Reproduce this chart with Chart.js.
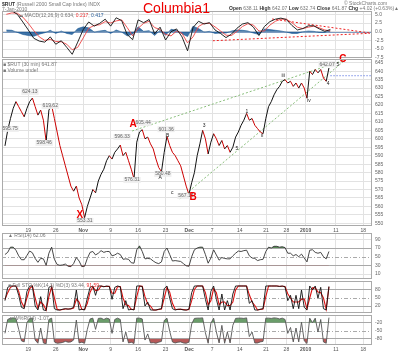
<!DOCTYPE html>
<html>
<head>
<meta charset="utf-8">
<title>$RUT 30 min</title>
<script src="https://cdn.jsdelivr.net/npm/chart.js@4.4.1/dist/chart.umd.min.js"></script>
<style>
  body{margin:0;background:#fff;}
  #wrap{position:relative;width:400px;height:354px;overflow:hidden;font-family:"Liberation Sans",Arial,sans-serif;}
  canvas{position:absolute;left:0;}
  .t{position:absolute;font-size:5px;line-height:6px;color:#777;white-space:nowrap;z-index:2}
  .t b{color:#333}
  .big{position:absolute;left:143px;top:0px;font-size:14px;line-height:16px;color:#e00;z-index:2}
</style>
</head>
<body>
<div id="wrap">
  <div class="t" style="left:2px;top:1px"><b>$RUT</b> (Russell 2000 Small Cap Index) INDX</div>
  <div class="t" style="left:2px;top:6px">7-Jan-2010</div>
  <div class="big">Columbia1</div>
  <div class="t" style="left:344px;top:0px">© StockCharts.com</div>
  <div class="t" style="left:229px;top:5px"><b>Open</b> 638.11 <b>High</b> 642.07 <b>Low</b> 632.74 <b>Close</b> 641.87 <b>Chg</b> +4.02 (+0.63%)▲</div>
  <div class="t" style="left:18px;top:12px">&#9644; MACD(12,26,9) 0.634, <span style="color:#e33">0.217</span>, <span style="color:#2a5f9a">0.417</span></div>
  <div class="t" style="left:3px;top:61px">&#9632; $RUT (30 min) 641.87</div>
  <div class="t" style="left:3px;top:67px">&#9632; Volume undef</div>
  <div class="t" style="left:8px;top:232px">&#9650; RSI(14) 62.06</div>
  <div class="t" style="left:8px;top:282px">&#9632; Full STO %K(14,3) %D(3) 93.44, <span style="color:#e33">91.59</span></div>
  <div class="t" style="left:8px;top:315px">&#9650; W%R(14) -1.07</div>
</div>
<script>
// ---- data (x unit = trading day, Oct 19 = 0) ----
const TICK_DAYS = [0, 5, 10, 15, 20, 25, 29.3, 33.5, 38.5, 43.3, 47, 50.5, 56, 61];
const TICK_TEXT = ['19', '26', 'Nov', '9', '16', '23', 'Dec', '7', '14', '21', '28', '2010', '11', '18'];
const BOLD_TICKS = ['Nov', 'Dec', '2010'];
const X_MIN = -4.79, X_MAX = 62.59;

// price + oscillators sampled every half day
const HALF_START = -4.25, HALF_STEP = 0.5;
const PRICE = [595.8,605,612,618,622,619,616,613,618,622,
  624.1,619,614,617,611,598.5,617,619.6,612,604,
  596,590,584,578,572,569,572,565,561,553.3,
  560,565,570,568,575,579,582,587,590,588,
  592,594,596.3,590,592,587,582,576.3,598,604,
  605.4,600,601,597,594,588,583,580.5,592,601.4,
  596,592,590,587,584,578,572,567.1,574,580,
  590,597,605,600,591,598,603,600,596,599,
  594,596,592,595,601,604,608,611,615,611,
  612,608,606,604,603,612,619,622,626,629,
  631,634,635,633,634,631,633,630,633,630,
  624,640,638,641,639,641,636,634,641.9];
const RSI = [55,60,72,72,65,52,43,43,53,63,
  59,46,37,46,45,30,58,72,44,32,
  30,31,33,28,27,34,48,40,27,28,
  46,60,62,54,58,64,60,62,62,52,
  54,58,55,44,45,44,36,35,66,75,
  62,45,46,45,40,36,34,38,62,70,
  55,40,41,40,39,34,29,28,50,66,
  70,72,72,55,35,47,66,54,42,48,
  46,45,45,52,58,63,62,64,65,52,
  47,46,41,43,44,62,72,70,74,74,
  72,73,71,58,58,52,55,50,56,47,
  38,65,66,60,58,60,50,45,62.06];
const STO_K = [40,90,95,95,95,60,15,10,75,95,
  95,20,5,55,5,3,90,95,10,5,
  5,8,10,8,10,15,80,5,8,5,
  50,90,95,60,95,95,92,95,93,45,
  90,95,92,10,40,5,8,5,95,95,
  93,20,35,5,5,5,8,10,85,95,
  50,10,5,8,8,5,5,8,70,95,
  95,95,95,45,5,75,95,45,5,65,
  5,40,5,65,95,95,95,95,95,30,
  40,5,5,8,10,95,95,95,95,95,
  93,95,92,40,60,10,60,10,80,15,
  5,95,80,95,50,90,10,5,93.44];
const STO_D = [45,70,90,95,95,75,35,15,50,85,
  95,50,12,35,25,5,55,92,50,8,
  5,7,9,9,9,12,45,35,7,7,
  30,72,92,78,80,95,93,93,94,68,
  68,92,93,50,25,22,7,7,55,95,
  94,55,28,20,5,5,7,9,50,90,
  72,30,8,7,8,7,5,7,40,82,
  95,95,95,70,25,40,85,70,25,35,
  35,22,22,35,80,95,95,95,95,62,
  35,22,5,7,9,55,95,95,95,95,
  94,94,93,66,50,35,35,35,45,47,
  10,50,88,88,72,70,50,8,91.59];
const WPR = [-60,-8,-3,-2,-4,-45,-88,-92,-20,-4,
  -3,-85,-97,-40,-96,-99,-8,-3,-92,-97,
  -96,-94,-90,-93,-92,-85,-10,-96,-93,-97,
  -45,-6,-3,-45,-4,-3,-8,-3,-6,-60,
  -8,-3,-8,-92,-55,-96,-93,-98,-3,-3,
  -6,-85,-62,-96,-95,-97,-93,-90,-12,-3,
  -52,-92,-96,-93,-92,-96,-97,-93,-25,-4,
  -3,-3,-2,-58,-97,-22,-3,-55,-96,-30,
  -97,-55,-96,-30,-4,-3,-3,-4,-2,-72,
  -55,-96,-96,-92,-90,-3,-3,-4,-2,-3,
  -6,-3,-8,-60,-38,-92,-40,-92,-18,-88,
  -98,-3,-20,-3,-55,-8,-92,-97,-1.07];

// MACD sampled once per day
const DAY_START = -4, DAY_STEP = 1;
const MACD = [5.8,6.0,5.0,2.8,0.5,-1.9,-2.7,-3.0,-1.5,-3.6,
  -2.6,-4.5,-6.5,-3.0,0.6,2.8,1.6,2.4,3.6,1.6,
  4.0,3.2,-0.8,-2.3,3.4,2.6,3.5,-0.6,1.3,-2.4,
  0.0,0.8,-1.5,-5.5,1.2,3.0,2.2,2.6,0.5,-0.5,
  -1.7,-0.7,1.0,2.2,2.6,1.3,-1.1,1.5,2.9,3.6,
  3.9,3.5,1.8,0.5,0.9,1.7,1.7,0.8,0.1,0.634];
const MACD_SIG = [5.0,5.4,5.3,4.2,2.4,0.3,-1.5,-2.5,-2.2,-2.8,
  -2.9,-3.6,-5.2,-4.5,-1.8,1.0,1.8,2.0,2.9,2.5,
  3.1,3.4,1.2,-1.2,1.0,2.4,3.0,1.2,0.6,-0.8,
  -1.2,0.2,-0.5,-3.2,-1.5,1.5,2.4,2.4,1.4,0.2,
  -1.0,-1.1,0.1,1.5,2.3,1.9,0.2,0.2,1.9,3.0,
  3.6,3.6,2.6,1.3,0.9,1.3,1.6,1.1,0.5,0.217];
const MACD_HIST = [0.5,0.4,-0.2,-0.8,-1.1,-1.3,-0.7,-0.3,0.4,-0.5,
  0.2,-0.5,-0.8,0.9,1.4,1.1,-0.1,0.2,0.4,-0.5,
  0.5,-0.1,-1.2,-0.7,1.4,0.1,0.3,-1.1,0.4,-1.0,
  0.7,0.4,-0.6,-1.4,1.6,0.9,-0.1,0.1,-0.5,-0.4,
  -0.4,0.2,0.5,0.4,0.2,-0.4,-0.8,0.8,0.6,0.4,
  0.2,-0.1,-0.5,-0.5,0.0,0.2,0.1,-0.2,-0.2,0.417];

// drawn lines: [day, value] end points
const MACD_TREND_UP = [[44.4, 3.65], [62.2, -0.37]];
const MACD_TREND_LO = [[33.6, -2.6], [62.2, -0.46]];
const PRICE_TREND_UP = [[18.9, 604.6], [60.4, 649.6]];
const PRICE_TREND_LO = [[27.6, 564.4], [58.8, 649.6]];
const PRICE_LEVEL = [[55, 637.3], [62.6, 637.3]];

// annotations: [text, day, price]
const PRICE_NOTES = [['595.75',-3.3,605.8],['624.13',0.3,627.7],['619.62',4.0,619.4],['598.46',2.9,597.5],
  ['553.31',10.3,551.4],['596.33',17.1,601.0],['576.31',18.9,575.6],['605.44',20.9,609.3],
  ['580.48',24.5,579.2],['601.36',25.1,605.7],['567.14',28.7,566.2],['642.07',54.4,644.1]];
const WAVE_BIG = [['X',9.4,554.9],['A',19.1,608.8],['B',30.0,565.6],['C',57.3,647.2]];
const WAVE_SMALL = [['A',24.0,576.8],['B',25.4,601.9],['c',26.2,567.9],['3',32.0,608],['5',38.0,594.4],
  ['1',39.8,615.8],['ii',42.6,601.9],['iii',46.4,637.2],['iv',51.1,622.3],['4',54.6,632.4],['5',56.4,644]];

// ---- helpers ----
const FONT = '"Liberation Sans", Arial, sans-serif';
const pts = (arr, start, step) => arr.map((v, i) => ({ x: start + i * step, y: v }));
const seg = pairs => pairs.map(p => ({ x: p[0], y: p[1] }));
const wrap = document.getElementById('wrap');

const framePlugin = {
  id: 'frame',
  afterDraw(chart) {
    const a = chart.chartArea, c = chart.ctx;
    c.save(); c.strokeStyle = '#aaa'; c.lineWidth = 1;
    c.strokeRect(a.left + 0.5, a.top + 0.5, a.right - a.left - 1, a.bottom - a.top - 1);
    c.restore();
  }
};
const refPlugin = {
  id: 'refLines',
  beforeDatasetsDraw(chart, args, opts) {
    const a = chart.chartArea, c = chart.ctx, y = chart.scales.y;
    (opts.lines || []).forEach(l => {
      const py = Math.round(y.getPixelForValue(l.v)) + 0.5;
      c.save(); c.strokeStyle = l.color; c.lineWidth = l.width || 1; c.setLineDash(l.dash || []);
      c.beginPath(); c.moveTo(a.left, py); c.lineTo(a.right, py); c.stroke(); c.restore();
    });
  }
};
const xLabelPlugin = {
  id: 'xLabels',
  afterDraw(chart, args, opts) {
    if (!opts.show) return;
    const c = chart.ctx, x = chart.scales.x, y0 = chart.chartArea.bottom + 2;
    c.save(); c.fillStyle = '#555'; c.textAlign = 'center'; c.textBaseline = 'top';
    TICK_DAYS.forEach((d, i) => {
      const t = TICK_TEXT[i];
      c.font = (BOLD_TICKS.includes(t) ? 'bold ' : '') + '5px ' + FONT;
      c.fillText(t, x.getPixelForValue(d), y0);
    });
    c.restore();
  }
};
const notesPlugin = {
  id: 'notes',
  afterDatasetsDraw(chart, args, opts) {
    if (!opts.show) return;
    const c = chart.ctx, x = chart.scales.x, y = chart.scales.y;
    c.save(); c.textAlign = 'center'; c.textBaseline = 'middle';
    c.font = '5px ' + FONT;
    PRICE_NOTES.forEach(([t, d, p]) => {
      const px = x.getPixelForValue(d), py = y.getPixelForValue(p), w = c.measureText(t).width + 2;
      c.fillStyle = 'rgba(238,238,238,0.9)'; c.fillRect(px - w / 2, py - 3, w, 6);
      c.fillStyle = '#666'; c.fillText(t, px, py);
    });
    c.font = '5px ' + FONT; c.fillStyle = '#222';
    WAVE_SMALL.forEach(([t, d, p]) => c.fillText(t, x.getPixelForValue(d), y.getPixelForValue(p)));
    c.font = 'bold 10px ' + FONT; c.fillStyle = '#e00';
    WAVE_BIG.forEach(([t, d, p]) => c.fillText(t, x.getPixelForValue(d), y.getPixelForValue(p)));
    c.restore();
  }
};

function makePanel(o) {
  const cv = document.createElement('canvas');
  const h = o.bottom - o.top + o.padTop + o.padBottom;
  cv.width = 400; cv.height = h;
  cv.style.top = (o.top - o.padTop) + 'px';
  wrap.appendChild(cv);
  return new Chart(cv, {
    type: 'line',
    data: { datasets: o.datasets },
    options: {
      responsive: false, animation: false, devicePixelRatio: 1,
      layout: { padding: { top: o.padTop, bottom: o.padBottom, left: 2, right: 0 } },
      elements: { point: { radius: 0 }, line: { tension: 0 } },
      plugins: {
        legend: { display: false }, tooltip: { enabled: false },
        refLines: { lines: o.lines || [] }, xLabels: { show: !!o.xLabels }, notes: { show: !!o.notes }
      },
      scales: {
        x: {
          type: 'linear', min: X_MIN, max: X_MAX,
          afterBuildTicks: s => { s.ticks = TICK_DAYS.map(v => ({ value: v })); },
          afterFit: s => { s.height = 0; },
          ticks: { display: false },
          grid: { color: '#e2e2e2', drawTicks: false }, border: { display: false }
        },
        y: {
          position: 'right', min: o.min, max: o.max,
          afterBuildTicks: s => { s.ticks = o.ticks.map(v => ({ value: v })); },
          afterFit: s => { s.width = 28; },
          ticks: { font: { size: 5, family: FONT }, color: '#666', padding: 3, autoSkip: false, callback: o.fmt || (v => v) },
          grid: { color: c => (o.gridFn ? o.gridFn(c.tick ? c.tick.value : null) : '#e2e2e2'), drawTicks: false },
          border: { display: false }
        }
      }
    },
    plugins: [refPlugin, notesPlugin, xLabelPlugin, framePlugin]
  });
}

const line = (data, color, width, extra) => Object.assign({ data, borderColor: color, borderWidth: width, fill: false }, extra || {});
const priceTicks = [];
for (let v = 550; v <= 645; v += 5) priceTicks.push(v);

// MACD
makePanel({
  top: 11, bottom: 58, padTop: 6, padBottom: 6, min: -7.56, max: 5.95,
  ticks: [5, 2.5, 0, -2.5, -5, -7.5], fmt: v => v.toFixed(1),
  lines: [{ v: 0, color: '#7f9cc0', width: 1 }],
  datasets: [
    line(pts(MACD, DAY_START, DAY_STEP), '#111', 0.9),
    line(pts(MACD_SIG, DAY_START, DAY_STEP), '#e44', 0.9),
    line(seg(MACD_TREND_UP), '#e22', 1, { borderDash: [2, 2] }),
    line(seg(MACD_TREND_LO), '#e22', 1, { borderDash: [2, 2] }),
    line(pts(MACD_HIST, DAY_START, DAY_STEP), '#1d5a96', 0.6, { fill: 'origin', backgroundColor: 'rgba(29,90,150,0.85)' })
  ]
});

// price
makePanel({
  top: 59, bottom: 226, padTop: 6, padBottom: 10, min: 548.4, max: 647.2,
  ticks: priceTicks, xLabels: true, notes: true,
  datasets: [
    line(pts(PRICE, HALF_START, HALF_STEP), '#111', 1, {
      segment: { borderColor: c => (c.p1.parsed.y < c.p0.parsed.y ? '#cc0000' : '#111') }
    }),
    line(seg(PRICE_TREND_UP), '#7db86d', 0.9, { borderDash: [2, 2] }),
    line(seg(PRICE_TREND_LO), '#7db86d', 0.9, { borderDash: [2, 2] }),
    line(seg(PRICE_LEVEL), '#7b8fe6', 1, { borderDash: [1.5, 1.5] })
  ]
});

const oscGrid = (strong, mid) => v => (v === mid ? 'rgba(0,0,0,0)' : strong.includes(v) ? '#a8a8a8' : '#e2e2e2');

// RSI
makePanel({
  top: 233, bottom: 279, padTop: 6, padBottom: 6, min: -1.5, max: 104.7,
  ticks: [10, 30, 50, 70, 90], gridFn: oscGrid([30, 70], 50),
  lines: [{ v: 50, color: '#aaa', dash: [4, 2, 1, 2] }],
  datasets: [
    line(pts(RSI, HALF_START, HALF_STEP), '#333', 0.9),
    line(pts(RSI, HALF_START, HALF_STEP), 'rgba(0,0,0,0)', 0, { fill: { target: { value: 70 }, above: 'rgba(60,120,60,0.85)', below: 'rgba(0,0,0,0)' } }),
    line(pts(RSI, HALF_START, HALF_STEP), 'rgba(0,0,0,0)', 0, { fill: { target: { value: 30 }, above: 'rgba(0,0,0,0)', below: 'rgba(170,60,60,0.85)' } })
  ]
});

// full stochastics
makePanel({
  top: 281, bottom: 313, padTop: 6, padBottom: 6, min: -6.2, max: 113.7,
  ticks: [20, 50, 80], gridFn: oscGrid([20, 80], 50),
  lines: [{ v: 50, color: '#aaa', dash: [4, 2, 1, 2] }],
  datasets: [
    line(pts(STO_K, HALF_START, HALF_STEP), '#111', 0.9),
    line(pts(STO_D, HALF_START, HALF_STEP), '#d11', 1.1)
  ]
});

// Williams %R
makePanel({
  top: 315, bottom: 345, padTop: 6, padBottom: 10, min: -103.6, max: 8.8,
  ticks: [-20, -50, -80], gridFn: oscGrid([-20, -80], -50), xLabels: true,
  lines: [{ v: -50, color: '#aaa', dash: [4, 2, 1, 2] }],
  datasets: [
    line(pts(WPR, HALF_START, HALF_STEP), '#555', 0.9),
    line(pts(WPR, HALF_START, HALF_STEP), 'rgba(0,0,0,0)', 0, { fill: { target: { value: -20 }, above: 'rgba(80,140,80,0.85)', below: 'rgba(0,0,0,0)' } }),
    line(pts(WPR, HALF_START, HALF_STEP), 'rgba(0,0,0,0)', 0, { fill: { target: { value: -80 }, above: 'rgba(0,0,0,0)', below: 'rgba(170,60,60,0.85)' } })
  ]
});
</script>
</body>
</html>
